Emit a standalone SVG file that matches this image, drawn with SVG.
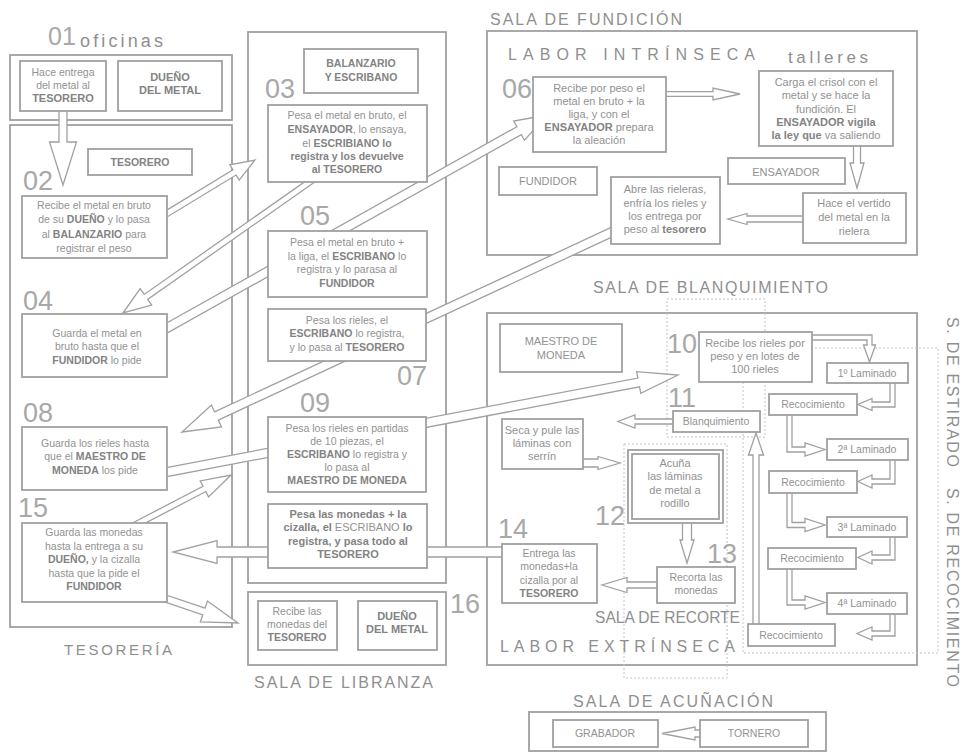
<svg xmlns="http://www.w3.org/2000/svg" width="964" height="752" viewBox="0 0 964 752">
<style>
.c{fill:none;stroke:#a0a0a0;stroke-width:1.8}
.b{fill:#fff;stroke:#a0a0a0;stroke-width:1.8}
.d{fill:none;stroke:#c4c4c4;stroke-width:1;stroke-dasharray:2 2}
.a{fill:#fff;stroke:#a0a0a0;stroke-width:1.3;stroke-linejoin:miter}
text{font-family:"Liberation Sans",Arial,sans-serif}
.t{font-size:10.5px;fill:#929292;text-anchor:middle}
.t2{font-size:11px;fill:#929292;text-anchor:middle}
.k{font-weight:bold;fill:#838383}
.n{font-size:27px;fill:#a8a8a8}
.h{font-size:16px;fill:#8f8f8f}
</style>
<rect x="0" y="0" width="964" height="752" fill="#fff"/>

<g id="containers">
<rect id="c-oficinas" class="c" x="10" y="55" width="222" height="65"/>
<rect id="c-tesoreria" class="c" x="10" y="125" width="222" height="502"/>
<rect id="c-balanzario" class="c" x="248" y="32" width="198" height="551"/>
<rect id="c-libranza" class="c" x="248" y="592" width="198" height="73"/>
<rect id="c-fundicion" class="c" x="487" y="31" width="430" height="224"/>
<rect id="c-blanquimiento" class="c" x="487" y="313" width="430" height="352"/>
<rect id="c-acunacion" class="c" x="529" y="712" width="297" height="39"/>
<rect id="c-d-blanq" class="d" x="667" y="299" width="98" height="138"/>
<rect id="c-d-recorte" class="d" x="624" y="444" width="103" height="234"/>
<rect id="c-d-estirado" class="d" x="743" y="348" width="195" height="305"/>
</g>

<g id="labels">
<text class="n" x="48" y="45" style="font-size:25px">01</text>
<text class="h" x="80" y="47" style="font-size:18px" textLength="83" lengthAdjust="spacing">oficinas</text>
<text class="h" x="64" y="655" style="font-size:15px" textLength="108" lengthAdjust="spacing">TESORERÍA</text>
<text class="h" x="254" y="688" textLength="179" lengthAdjust="spacing">SALA DE LIBRANZA</text>
<text class="h" x="490" y="25" textLength="192" lengthAdjust="spacing">SALA DE FUNDICIÓN</text>
<text class="h" x="508" y="60" textLength="247" lengthAdjust="spacing">LABOR INTRÍNSECA</text>
<text class="h" x="788" y="63" style="font-size:17px" textLength="80" lengthAdjust="spacing">talleres</text>
<text class="h" x="593" y="293" textLength="235" lengthAdjust="spacing">SALA DE BLANQUIMIENTO</text>
<text class="h" x="595" y="623" textLength="145" lengthAdjust="spacingAndGlyphs">SALA DE RECORTE</text>
<text class="h" x="500" y="652" textLength="235" lengthAdjust="spacing">LABOR EXTRÍNSECA</text>
<text class="h" x="573" y="707" textLength="200" lengthAdjust="spacing">SALA DE ACUÑACIÓN</text>
<text class="h" transform="translate(947,317) rotate(90)" textLength="150" lengthAdjust="spacing">S. DE ESTIRADO</text>
<text class="h" transform="translate(947,488) rotate(90)" textLength="199" lengthAdjust="spacing">S. DE RECOCIMIENTO</text>
<text class="n" x="23" y="190">02</text>
<text class="n" x="265" y="98">03</text>
<text class="n" x="23" y="310">04</text>
<text class="n" x="300" y="225">05</text>
<text class="n" x="502" y="98">06</text>
<text class="n" x="397" y="385">07</text>
<text class="n" x="23" y="422">08</text>
<text class="n" x="300" y="412">09</text>
<text class="n" x="667" y="353">10</text>
<text class="n" x="668" y="407">11</text>
<text class="n" x="595" y="525">12</text>
<text class="n" x="707" y="563">13</text>
<text class="n" x="498" y="538">14</text>
<text class="n" x="18" y="517">15</text>
<text class="n" x="450" y="613">16</text>
</g>

<g id="connectors">
<polygon class="a" transform="translate(63,185) rotate(90)" points="-80,-4 -43,-4 -43,-13.5 0,0 -43,13.5 -43,4 -80,4"/>
<polygon class="a" transform="translate(255,160) rotate(-31.3)" points="-123,-3 -24,-3 -24,-9 0,0 -24,9 -24,3 -123,3"/>
<polygon class="a" transform="translate(123,313) rotate(144.93)" points="-250,-3 -28,-3 -28,-10 0,0 -28,10 -28,3 -250,3"/>
<polygon class="a" transform="translate(547,115) rotate(-29.27)" points="-456,-4.5 -32,-4.5 -32,-11 0,0 -32,11 -32,4.5 -456,4.5"/>
<polygon class="a" transform="translate(182,432) rotate(155.06)" points="-489,-4.5 -38,-4.5 -38,-12 0,0 -38,12 -38,4.5 -489,4.5"/>
<polygon class="a" transform="translate(678,375) rotate(-10.75)" points="-540,-4.5 -40,-4.5 -40,-11 0,0 -40,11 -40,4.5 -540,4.5"/>
<polygon class="a" transform="translate(173,552) rotate(180)" points="-342,-5 -44,-5 -44,-11.5 0,0 -44,11.5 -44,5 -342,5"/>
<polygon class="a" transform="translate(231,475) rotate(-27.57)" points="-116,-3 -30,-3 -30,-9 0,0 -30,9 -30,3 -116,3"/>
<polygon class="a" transform="translate(238,623) rotate(18.68)" points="-95,-3.5 -36,-3.5 -36,-11 0,0 -36,11 -36,3.5 -95,3.5"/>
<polygon class="a" transform="translate(740,94)" points="-80,-2.3 -27,-2.3 -27,-6 0,0 -27,6 -27,2.3 -80,2.3"/>
<polygon class="a" transform="translate(857,188) rotate(90)" points="-48,-3.5 -25,-3.5 -25,-7 0,0 -25,7 -25,3.5 -48,3.5"/>
<polygon class="a" transform="translate(728,219) rotate(180)" points="-80,-3 -19,-3 -19,-5.5 0,0 -19,5.5 -19,3 -80,3"/>
<polygon class="a" transform="translate(620,463)" points="-43,-4 -22,-4 -22,-6.5 0,0 -22,6.5 -22,4 -43,4"/>
<polygon class="a" transform="translate(618,421.5) rotate(180)" points="-61,-2.5 -17,-2.5 -17,-6.5 0,0 -17,6.5 -17,2.5 -61,2.5"/>
<polygon class="a" transform="translate(687,563) rotate(90)" points="-46,-4.5 -23,-4.5 -23,-7 0,0 -23,7 -23,4.5 -46,4.5"/>
<polygon class="a" transform="translate(602,585) rotate(180)" points="-61,-3 -25,-3 -25,-7.5 0,0 -25,7.5 -25,3 -61,3"/>
<polygon class="a" transform="translate(662,733.5) rotate(180)" points="-46,-3.5 -33,-3.5 -33,-6.5 0,0 -33,6.5 -33,3.5 -46,3.5"/>
<polygon class="a" transform="translate(756,433) rotate(-90)" points="-197,-3 -22,-3 -22,-7.5 0,0 -22,7.5 -22,3 -197,3"/>
<polygon class="a" points="808,335 872,335 872,345 875.5,345 869.5,362 863.5,345 867,345 867,340 808,340"/>
<polygon class="a" points="890,380 895,380 895,407 872,407 872,410.5 858,404.5 872,398.5 872,402 890,402"/>
<polygon class="a" points="787,412 792,412 792,447 805,447 805,443 825,449.5 805,456 805,452 787,452"/>
<polygon class="a" points="890,457 895,457 895,484 872,484 872,488 858,481.5 872,475 872,479 890,479"/>
<polygon class="a" points="787,490 792,490 792,522.5 805,522.5 805,518.5 825,525 805,531.5 805,527.5 787,527.5"/>
<polygon class="a" points="890,534 895,534 895,560 872,560 872,564 858,557.5 872,551 872,555 890,555"/>
<polygon class="a" points="787,566 792,566 792,600 805,600 805,596 825,602.5 805,609 805,605 787,605"/>
<polygon class="a" points="890,611 895,611 895,636 872,636 872,640 857,633.5 872,627 872,631 890,631"/>
</g>

<g id="n01-entrega"><rect class="b" x="20" y="61" width="86" height="50"/>
<text class="t" x="63" y="76">Hace entrega</text><text class="t" x="63" y="89">del metal al</text><text class="t k" x="63" y="102" style="font-size:11px">TESORERO</text></g>
<g id="n01-dueno"><rect class="b" x="118" y="61" width="104" height="50"/>
<text class="t k" x="170" y="81" style="font-size:11px">DUEÑO</text><text class="t k" x="170" y="94" style="font-size:11px">DEL METAL</text></g>
<g id="n-tesorero"><rect class="b" x="88" y="149" width="104" height="26"/>
<text class="t k" x="140" y="166">TESORERO</text></g>
<g id="n02"><rect class="b" x="22" y="196" width="145" height="62"/>
<text class="t" x="94" y="209">Recibe el metal en bruto</text>
<text class="t" x="94" y="223">de su <tspan class="k">DUEÑO</tspan>  y lo pasa</text>
<text class="t" x="94" y="238">al <tspan class="k">BALANZARIO</tspan> para</text>
<text class="t" x="94" y="252">registrar el peso</text></g>
<g id="n04"><rect class="b" x="22" y="314" width="145" height="63"/>
<text class="t" x="97" y="337">Guarda el metal en</text>
<text class="t" x="97" y="350">bruto hasta que el</text>
<text class="t" x="97" y="364"><tspan class="k">FUNDIDOR</tspan> lo pide</text></g>
<g id="n08"><rect class="b" x="22" y="427" width="145" height="63"/>
<text class="t" x="95" y="447">Guarda los rieles hasta</text>
<text class="t" x="95" y="460">que el <tspan class="k">MAESTRO DE</tspan></text>
<text class="t" x="95" y="474"><tspan class="k">MONEDA</tspan> los pide</text></g>
<g id="n15"><rect class="b" x="22" y="523" width="145" height="79"/>
<text class="t" x="94" y="536">Guarda las monedas</text>
<text class="t" x="94" y="550">hasta la entrega a su</text>
<text class="t" x="94" y="563"><tspan class="k">DUEÑO,</tspan>  y la cizalla</text>
<text class="t" x="94" y="577">hasta que la pide el</text>
<text class="t k" x="94" y="590">FUNDIDOR</text></g>

<g id="n-balanzario"><rect class="b" x="304" y="49" width="114" height="44"/>
<text class="t k" x="361" y="67">BALANZARIO</text><text class="t k" x="361" y="81">Y ESCRIBANO</text></g>
<g id="n03"><rect class="b" x="268" y="105" width="159" height="77"/>
<text class="t" x="347" y="119">Pesa el metal en bruto, el</text>
<text class="t" x="347" y="133"><tspan class="k">ENSAYADOR</tspan>, lo ensaya,</text>
<text class="t" x="347" y="147">el <tspan class="k">ESCRIBIANO lo</tspan></text>
<text class="t k" x="347" y="160">registra y los devuelve</text>
<text class="t k" x="347" y="173">al TESORERO</text></g>
<g id="n05"><rect class="b" x="268" y="231" width="159" height="66"/>
<text class="t" x="347" y="246">Pesa el metal en bruto +</text>
<text class="t" x="347" y="260">la liga, el <tspan class="k">ESCRIBANO</tspan> lo</text>
<text class="t" x="347" y="273">registra y lo parasa al</text>
<text class="t k" x="347" y="287">FUNDIDOR</text></g>
<g id="n07"><rect class="b" x="268" y="309" width="158" height="52"/>
<text class="t" x="347" y="324">Pesa los rieles, el</text>
<text class="t" x="347" y="337"><tspan class="k">ESCRIBANO</tspan> lo registra,</text>
<text class="t" x="347" y="351">y lo pasa al <tspan class="k">TESORERO</tspan></text></g>
<g id="n09"><rect class="b" x="268" y="417" width="158" height="75"/>
<text class="t" x="347" y="432">Pesa los rieles en partidas</text>
<text class="t" x="347" y="445">de 10 piezas, el</text>
<text class="t" x="347" y="458"><tspan class="k">ESCRIBANO</tspan> lo registra y</text>
<text class="t" x="347" y="471">lo pasa al</text>
<text class="t k" x="347" y="484">MAESTRO DE MONEDA</text></g>
<g id="n-pesa-monedas"><rect class="b" x="268" y="504" width="159" height="64"/>
<text class="t k" x="348" y="518" style="font-size:11px">Pesa las monedas + la</text>
<text class="t" x="348" y="531" style="font-size:11px"><tspan class="k">cizalla, el</tspan> ESCRIBANO <tspan class="k">lo</tspan></text>
<text class="t k" x="348" y="545" style="font-size:11px">registra, y pasa todo al</text>
<text class="t k" x="348" y="558" style="font-size:11px">TESORERO</text></g>
<g id="n16-recibe"><rect class="b" x="258" y="601" width="79" height="49"/>
<text class="t" x="297" y="615">Recibe las</text><text class="t" x="297" y="628">monedas del</text><text class="t k" x="297" y="641">TESORERO</text></g>
<g id="n16-dueno"><rect class="b" x="358" y="601" width="79" height="49"/>
<text class="t k" x="397" y="620" style="font-size:11px">DUEÑO</text><text class="t k" x="397" y="633" style="font-size:11px">DEL METAL</text></g>

<g id="n06"><rect class="b" x="533" y="77" width="133" height="75"/>
<text class="t2" x="599" y="92">Recibe por peso el</text>
<text class="t2" x="599" y="105">metal en bruto + la</text>
<text class="t2" x="599" y="118">liga,  y con el</text>
<text class="t2" x="599" y="131"><tspan class="k">ENSAYADOR</tspan> prepara</text>
<text class="t2" x="599" y="144">la aleación</text></g>
<g id="n-crisol"><rect class="b" x="759" y="71" width="134" height="75"/>
<text class="t2" x="826" y="86">Carga el crisol con el</text>
<text class="t2" x="826" y="99">metal y se hace la</text>
<text class="t2" x="826" y="113">fundición. El</text>
<text class="t2 k" x="826" y="126">ENSAYADOR vigila</text>
<text class="t2" x="826" y="139"><tspan class="k">la ley que</tspan> va saliendo</text></g>
<g id="n-ensayador"><rect class="b" x="728" y="158" width="117" height="26"/>
<text class="t2" x="786" y="176">ENSAYADOR</text></g>
<g id="n-fundidor"><rect class="b" x="499" y="167" width="98" height="28"/>
<text class="t2" x="548" y="185">FUNDIDOR</text></g>
<g id="n-vertido"><rect class="b" x="803" y="193" width="103" height="50"/>
<text class="t2" x="854" y="207">Hace el vertido</text>
<text class="t2" x="854" y="221">del metal en la</text>
<text class="t2" x="854" y="235">rielera</text></g>
<g id="n-rieleras"><rect class="b" x="611" y="177" width="109" height="67"/>
<text class="t2" x="665" y="193">Abre las rieleras,</text>
<text class="t2" x="665" y="207">enfría los rieles y</text>
<text class="t2" x="665" y="220">los entrega por</text>
<text class="t2" x="665" y="233">peso al <tspan class="k">tesorero</tspan></text></g>

<g id="n-maestro"><rect class="b" x="500" y="324" width="122" height="48"/>
<text class="t2" x="561" y="345">MAESTRO DE</text><text class="t2" x="561" y="359">MONEDA</text></g>
<g id="n10"><rect class="b" x="699" y="332" width="113" height="50"/>
<text class="t2" x="755" y="347">Recibe los rieles por</text>
<text class="t2" x="755" y="360">peso y en lotes de</text>
<text class="t2" x="755" y="373">100 rieles</text></g>
<g id="n11"><rect class="b" x="673" y="411" width="87" height="21"/>
<text class="t" x="716" y="425">Blanquimiento</text></g>
<g id="n-seca"><rect class="b" x="502" y="419" width="81" height="50"/>
<text class="t2" x="542" y="434">Seca y pule las</text>
<text class="t2" x="542" y="447">láminas con</text>
<text class="t2" x="542" y="460">serrín</text></g>
<g id="n12"><rect class="b" x="628" y="450" width="95" height="73"/>
<rect class="c" x="632" y="454" width="87" height="65"/>
<text class="t2" x="675" y="467">Acuña</text>
<text class="t2" x="675" y="480">las láminas</text>
<text class="t2" x="675" y="494">de metal a</text>
<text class="t2" x="675" y="507">rodillo</text></g>
<g id="n13"><rect class="b" x="657" y="567" width="78" height="36"/>
<text class="t" x="696" y="581">Recorta las</text><text class="t" x="696" y="594">monedas</text></g>
<g id="n14"><rect class="b" x="502" y="544" width="95" height="59"/>
<text class="t" x="549" y="557">Entrega las</text>
<text class="t" x="549" y="570">monedas+la</text>
<text class="t" x="549" y="584">cizalla por al</text>
<text class="t k" x="549" y="597">TESORERO</text></g>
<g id="n-lam1"><rect class="b" x="827" y="363" width="81" height="20"/><text class="t" x="867" y="377">1º Laminado</text></g>
<g id="n-rec1"><rect class="b" x="769" y="394" width="88" height="21"/><text class="t" x="813" y="408">Recocimiento</text></g>
<g id="n-lam2"><rect class="b" x="827" y="439" width="81" height="21"/><text class="t" x="867" y="453">2ª Laminado</text></g>
<g id="n-rec2"><rect class="b" x="769" y="471" width="88" height="22"/><text class="t" x="813" y="486">Recocimiento</text></g>
<g id="n-lam3"><rect class="b" x="827" y="517" width="80" height="20"/><text class="t" x="867" y="531">3ª Laminado</text></g>
<g id="n-rec3"><rect class="b" x="768" y="548" width="88" height="21"/><text class="t" x="812" y="562">Recocimiento</text></g>
<g id="n-lam4"><rect class="b" x="827" y="593" width="80" height="21"/><text class="t" x="867" y="607">4ª Laminado</text></g>
<g id="n-rec4"><rect class="b" x="748" y="624" width="87" height="22"/><text class="t" x="791" y="639">Recocimiento</text></g>

<g id="n-grabador"><rect class="b" x="553" y="720" width="105" height="27"/><text class="t" x="605" y="737">GRABADOR</text></g>
<g id="n-tornero"><rect class="b" x="700" y="720" width="108" height="27"/><text class="t" x="754" y="737">TORNERO</text></g>
</svg>
